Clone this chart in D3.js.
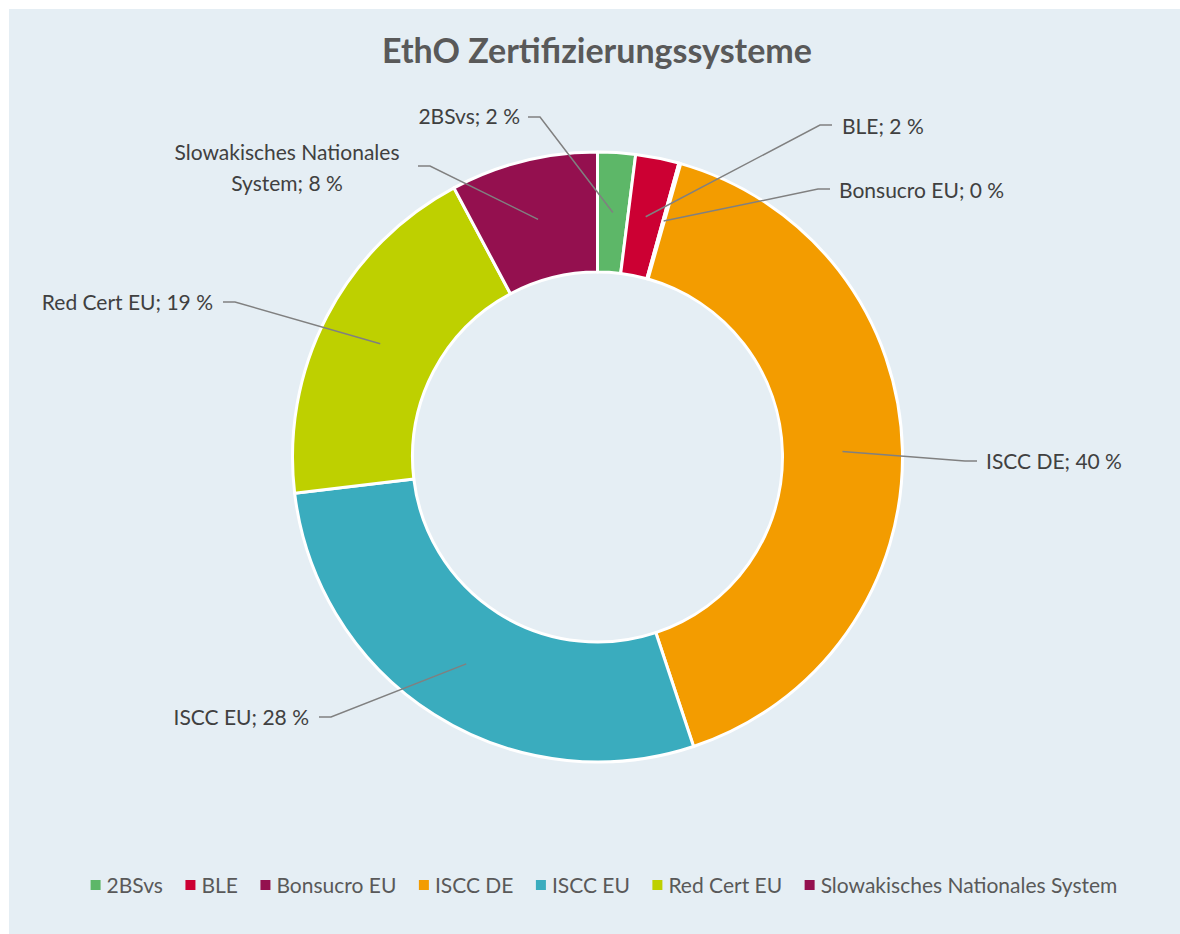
<!DOCTYPE html>
<html>
<head>
<meta charset="utf-8">
<script src="https://cdn.jsdelivr.net/npm/d3@7"></script>
<style>
    body { margin: 0; background: #ffffff; }
    svg { display: block; font-family: Lato, "Open Sans", sans-serif; }
</style>
</head>
<body>
<script>
// Daten des Diagramms
var kategorien = ["2BSvs", "BLE", "Bonsucro EU", "ISCC DE", "ISCC EU", "Red Cert EU", "Slowakisches Nationales System"];
var anteile = [2.0, 2.3, 0.1, 40.5, 28.2, 19.1, 7.8];
var prozentLabels = ["2 %", "2 %", "0 %", "40 %", "28 %", "19 %", "8 %"];
var farben = ["#5db768", "#cc0033", "#94104f", "#f39c00", "#3aacbe", "#bed000", "#94104f"];

var width = 1180;
var height = 934;

var zentrum = { x: 597.5, y: 457 };
var radiusAussen = 305;
var radiusInnen = 185;

// Lage der Beschriftungen (Textpunkt, Knick der Führungslinie)
var labelLage = [
    { x: 520, y: 124, anchor: "end", start: [528, 117], knick: [540, 117] },
    { x: 842, y: 134, anchor: "start", start: [832, 125], knick: [820, 125] },
    { x: 839, y: 198, anchor: "start", start: [830, 189], knick: [818, 189] },
    { x: 986, y: 469, anchor: "start", start: [977, 461], knick: [965, 461] },
    { x: 309, y: 725, anchor: "end", start: [319, 717], knick: [331, 717] },
    { x: 213, y: 310, anchor: "end", start: [223, 302], knick: [235, 302] },
    { x: 287, y: 160, anchor: "middle", start: [418, 166], knick: [430, 166], zeilen: ["Slowakisches Nationales", "System; 8 %"] }
];

var daten = kategorien.map(function (k, i) {
    return { name: k, wert: anteile[i], label: prozentLabels[i], farbe: farben[i], lage: labelLage[i] };
});

var svg = d3.select("body")
    .append("svg")
    .attr("width", width)
    .attr("height", height);

// Hintergrund
svg.append("rect")
    .attr("x", 9)
    .attr("y", 9)
    .attr("width", width - 9)
    .attr("height", height - 9)
    .attr("fill", "#e5eef4");

// Titel
svg.append("text")
    .attr("x", 597)
    .attr("y", 63)
    .attr("text-anchor", "middle")
    .attr("fill", "#595959")
    .style("font-size", "34px")
    .style("font-weight", "bold")
    .text("EthO Zertifizierungssysteme");

var pie = d3.pie()
    .sort(null)
    .value(function (d) { return d.wert; });

var arc = d3.arc()
    .innerRadius(radiusInnen)
    .outerRadius(radiusAussen);

var arcMitte = d3.arc()
    .innerRadius((radiusInnen + radiusAussen) / 2)
    .outerRadius((radiusInnen + radiusAussen) / 2);

var gPie = svg.append("g")
    .attr("transform", "translate(" + zentrum.x + "," + zentrum.y + ")");

var boegen = pie(daten);

gPie.selectAll("path")
    .data(boegen)
    .join("path")
    .attr("d", arc)
    .attr("fill", function (d) { return d.data.farbe; })
    .attr("stroke", "#ffffff")
    .attr("stroke-width", 3)
    .attr("stroke-linejoin", "round");

// Führungslinien
svg.append("g")
    .selectAll("polyline")
    .data(boegen)
    .join("polyline")
    .attr("points", function (d) {
        var c = arcMitte.centroid(d);
        var l = d.data.lage;
        return [l.start, l.knick, [c[0] + zentrum.x, c[1] + zentrum.y]].map(function (p) { return p.join(","); }).join(" ");
    })
    .attr("fill", "none")
    .attr("stroke", "#808080")
    .attr("stroke-width", 1.5);

// Beschriftungen
var labels = svg.append("g")
    .selectAll("text")
    .data(daten)
    .join("text")
    .attr("x", function (d) { return d.lage.x; })
    .attr("y", function (d) { return d.lage.y; })
    .attr("text-anchor", function (d) { return d.lage.anchor; })
    .attr("fill", "#404040")
    .style("font-size", "21px");

labels.each(function (d) {
    var t = d3.select(this);
    if (d.lage.zeilen) {
        d.lage.zeilen.forEach(function (z, i) {
            t.append("tspan")
                .attr("x", d.lage.x)
                .attr("dy", i === 0 ? 0 : 31)
                .text(z);
        });
    } else {
        t.text(d.name + "; " + d.label);
    }
});

// Legende
var legende = svg.append("g");
var eintraege = legende.selectAll("g")
    .data(daten)
    .join("g");

eintraege.append("rect")
    .attr("width", 10)
    .attr("height", 10)
    .attr("y", -13)
    .attr("fill", function (d) { return d.farbe; });

eintraege.append("text")
    .attr("x", 16)
    .attr("fill", "#595959")
    .style("font-size", "21px")
    .text(function (d) { return d.name; });

var abstand = 22.5;
var pos = 0;
eintraege.each(function () {
    var g = d3.select(this);
    g.attr("transform", "translate(" + pos + ",0)");
    pos += this.getBBox().width + abstand;
});
var gesamt = pos - abstand;
legende.attr("transform", "translate(" + (604 - gesamt / 2) + ",893)");
</script>
</body>
</html>
